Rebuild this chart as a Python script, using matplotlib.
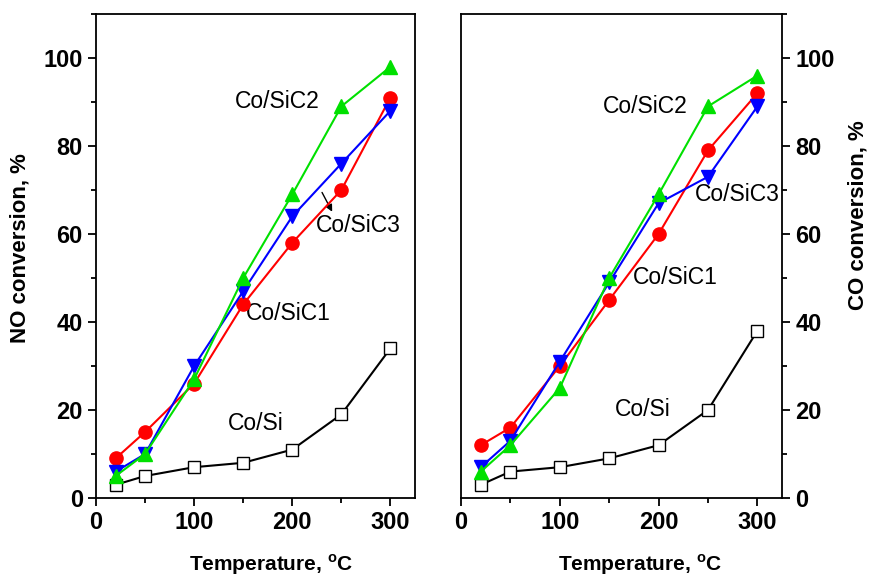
import matplotlib
matplotlib.use("Agg")
import matplotlib.pyplot as plt
from matplotlib.ticker import MultipleLocator

plt.rcParams['font.family'] = ['Liberation Sans', 'DejaVu Sans']
plt.rcParams['mathtext.fontset'] = 'custom'
plt.rcParams['mathtext.rm'] = 'Liberation Sans:bold'
plt.rcParams['mathtext.bf'] = 'Liberation Sans:bold'

temperature = [20, 50, 100, 150, 200, 250, 300]

no_co_si = [3, 5, 7, 8, 11, 19, 34]
no_co_sic1 = [9, 15, 26, 44, 58, 70, 91]
no_co_sic2 = [5, 10, 27, 50, 69, 89, 98]
no_co_sic3 = [6, 10, 30, 47, 64, 76, 88]

co_co_si = [3, 6, 7, 9, 12, 20, 38]
co_co_sic1 = [12, 16, 30, 45, 60, 79, 92]
co_co_sic2 = [6, 12, 25, 50, 69, 89, 96]
co_co_sic3 = [7, 13, 31, 49, 67, 73, 89]

x_ticks = [0, 100, 200, 300]
y_ticks = [0, 20, 40, 60, 80, 100]

fig = plt.figure(figsize=(8.69, 5.8), dpi=100)
ax1 = fig.add_axes([0.1105, 0.1414, 0.367, 0.8345])
ax2 = fig.add_axes([0.5305, 0.1414, 0.3695, 0.8345])

def draw(ax, si, c1, c2, c3):
    ax.plot(temperature, si, color='black', lw=1.5, marker='s', ms=8,
            mfc='white', mec='black', mew=1.0, zorder=3)
    ax.plot(temperature, c1, color='#ff0000', lw=1.5, marker='o', ms=9.5,
            mfc='#ff0000', mec='#ff0000', zorder=4)
    ax.plot(temperature, c3, color='#0000ff', lw=1.5, marker='v', ms=10,
            mfc='#0000ff', mec='#0000ff', zorder=5)
    ax.plot(temperature, c2, color='#00e000', lw=1.5, marker='^', ms=10,
            mfc='#00e000', mec='#00e000', zorder=6)
    ax.set_xlim(0, 325)
    ax.set_ylim(0, 110)
    ax.set_xticks(x_ticks)
    ax.set_yticks(y_ticks)
    ax.xaxis.set_minor_locator(MultipleLocator(50))
    ax.yaxis.set_minor_locator(MultipleLocator(10))
    for s in ax.spines.values():
        s.set_linewidth(1.3)
    ax.tick_params(which='major', direction='out', length=6, width=1.3,
                   labelsize=17)
    ax.tick_params(which='minor', direction='out', length=3.5, width=1.3)
    for lab in ax.get_xticklabels() + ax.get_yticklabels():
        lab.set_fontweight('bold')
    ax.set_xlabel(r'Temperature, $^{\mathbf{o}}$C', fontsize=15,
                  fontweight='bold')

draw(ax1, no_co_si, no_co_sic1, no_co_sic2, no_co_sic3)
draw(ax2, co_co_si, co_co_sic1, co_co_sic2, co_co_sic3)

ax1.xaxis.set_label_coords(0.549, -0.113)
ax2.xaxis.set_label_coords(0.558, -0.113)

ax1.set_ylabel('NO conversion, %', fontsize=16, fontweight='bold')
ax1.yaxis.set_label_coords(-0.205, 0.517)
ax2.yaxis.tick_right()
ax2.yaxis.set_label_position('right')
ax2.set_ylabel('CO conversion, %', fontsize=16, fontweight='bold')
ax2.yaxis.set_label_coords(1.205, 0.585)
for lab in ax2.get_yticklabels():
    lab.set_fontweight('bold')

fs = 16.5
ax1.text(185, 90, 'Co/SiC2', fontsize=fs, ha='center', va='center')
ax1.text(267, 62, 'Co/SiC3', fontsize=fs, ha='center', va='center')
ax1.annotate('', xy=(242, 64.5), xytext=(229, 70),
             arrowprops=dict(arrowstyle='-|>', color='black', lw=1,
                             mutation_scale=10))
ax1.text(196, 42, 'Co/SiC1', fontsize=fs, ha='center', va='center')
ax1.text(163, 17, 'Co/Si', fontsize=fs, ha='center', va='center')

ax2.text(186, 89, 'Co/SiC2', fontsize=fs, ha='center', va='center')
ax2.text(280, 69, 'Co/SiC3', fontsize=fs, ha='center', va='center')
ax2.text(217, 50, 'Co/SiC1', fontsize=fs, ha='center', va='center')
ax2.text(184, 20, 'Co/Si', fontsize=fs, ha='center', va='center')

fig.savefig('out.png', dpi=100)
